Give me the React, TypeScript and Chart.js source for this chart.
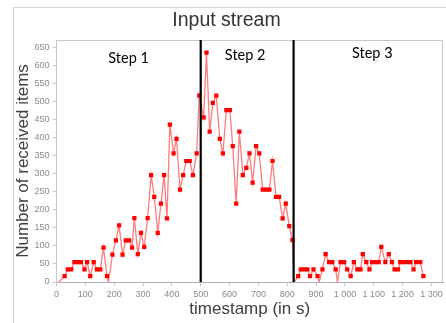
import React, { useEffect, useRef } from 'react';
import { Chart, registerables } from 'chart.js';

Chart.register(...registerables);

// ---- data ----
const timestamps = [
  8, 28, 39, 51, 62, 73, 85, 97, 106, 117, 129, 140, 152, 163, 175, 180,
  194, 206, 217, 229, 240, 252, 262, 270, 282, 293, 304, 316, 328, 339, 351, 362,
  373, 383, 393, 406, 416, 428, 439, 450, 462, 473, 486, 495,
  510, 520, 531, 542, 554, 566, 577, 589, 601, 611, 623, 634, 646, 658, 669, 680,
  692, 703, 715, 727, 738, 749, 761, 772, 784, 795, 807, 818, 824,
  838, 847, 859, 870, 879, 891, 905, 911, 922, 933, 945, 956, 968, 974, 985, 997,
  1008, 1020, 1031, 1043, 1054, 1062, 1074, 1085, 1094, 1106, 1117, 1126, 1140, 1152, 1163, 1172,
  1184, 1192, 1203, 1215, 1227, 1238, 1247, 1261, 1272,
];
const receivedItems = [
  0, 16, 35, 35, 55, 55, 55, 35, 55, 16, 55, 35, 35, 95, 16, 0,
  76, 115, 157, 76, 115, 115, 95, 177, 77, 136, 97, 177, 296, 236, 136, 217,
  296, 176, 436, 356, 396, 256, 296, 335, 335, 296, 356, 516,
  456, 635, 416, 496, 516, 396, 356, 476, 476, 376, 217, 416, 296, 316, 356, 275,
  376, 356, 256, 256, 256, 335, 236, 236, 176, 217, 155, 116, 0,
  16, 35, 35, 35, 16, 35, 16, 0, 35, 77, 55, 55, 35, 0, 55, 55,
  35, 16, 55, 35, 35, 77, 55, 35, 55, 55, 55, 97, 55, 77, 55, 35,
  35, 55, 55, 55, 55, 35, 55, 55, 16,
];
const stepBoundaries = [500, 822];
const stepNames = ['Step 1', 'Step 2', 'Step 3'];
const xTickValues = [0, 100, 200, 300, 400, 500, 600, 700, 800, 900, 1000, 1100, 1200, 1300];
const yTickValues = [0, 50, 100, 150, 200, 250, 300, 350, 400, 450, 500, 550, 600, 650];

const formatThousands = (v: number) => String(v).replace(/\B(?=(\d{3})+(?!\d))/g, ' ');

export default function App() {
  const canvasRef = useRef<HTMLCanvasElement>(null);

  useEffect(() => {
    document.body.style.margin = '0';
    const canvas = canvasRef.current;
    if (!canvas) return;

    const overlay = {
      id: 'overlay',
      beforeDatasetsDraw(chart: any) {
        const { ctx, chartArea } = chart;
        ctx.save();
        ctx.strokeStyle = '#c8c8c8';
        ctx.lineWidth = 1;
        ctx.beginPath();
        ctx.moveTo(chartArea.left, chartArea.top + 0.5);
        ctx.lineTo(chartArea.right - 0.5, chartArea.top + 0.5);
        ctx.lineTo(chartArea.right - 0.5, chartArea.bottom);
        ctx.stroke();
        ctx.restore();
      },
      afterDatasetsDraw(chart: any) {
        const { ctx, chartArea, scales } = chart;
        const xs = scales.x;
        ctx.save();
        ctx.strokeStyle = '#000';
        ctx.lineWidth = 2.2;
        stepBoundaries.forEach((b) => {
          const x = xs.getPixelForValue(b);
          ctx.beginPath();
          ctx.moveTo(x, chartArea.top);
          ctx.lineTo(x, chartArea.bottom);
          ctx.stroke();
        });
        const edges = [xs.min, ...stepBoundaries, xs.max];
        const baselineOffsets = [23, 20, 17.5];
        const dx = [0, -2, 4];
        ctx.font = '14.5px Lato, "Liberation Sans", sans-serif';
        ctx.fillStyle = '#000';
        ctx.textAlign = 'center';
        ctx.textBaseline = 'alphabetic';
        stepNames.forEach((name, i) => {
          const cx = (xs.getPixelForValue(edges[i]) + xs.getPixelForValue(edges[i + 1])) / 2 + dx[i];
          ctx.fillText(name, cx, chartArea.top + baselineOffsets[i]);
        });
        ctx.restore();
      },
    };

    Chart.defaults.font.family = "'Liberation Sans', Arial, sans-serif";

    const chart = new Chart(canvas, {
      type: 'line',
      data: {
        datasets: [
          {
            label: 'Input stream',
            data: timestamps.map((t, i) => ({ x: t, y: receivedItems[i] })),
            borderColor: 'rgba(255,80,80,0.75)',
            borderWidth: 1.3,
            pointBackgroundColor: '#ff0000',
            pointBorderWidth: 0,
            pointStyle: 'rect',
            pointRadius: (c: any) => (c.raw && c.raw.y === 0 ? 0 : 3),
            pointHoverRadius: 3,
            tension: 0,
          },
        ],
      },
      options: {
        responsive: false,
        animation: false,
        devicePixelRatio: 1,
        layout: { padding: { left: 8, right: 1, top: 0, bottom: 0 } },
        plugins: {
          legend: { display: false },
          tooltip: { enabled: false },
          title: {
            display: true,
            text: 'Input stream',
            color: '#333333',
            font: { size: 19.5, weight: 'normal' },
            padding: { top: 9, bottom: 7.6 },
          },
        },
        scales: {
          x: {
            type: 'linear',
            min: 0,
            max: 1340,
            afterBuildTicks: (s: any) => {
              s.ticks = xTickValues.map((v) => ({ value: v }));
            },
            afterFit: (s: any) => {
              s.height = 41;
              s.paddingLeft = 0;
              s.paddingRight = 0;
            },
            ticks: {
              font: { size: 9 },
              color: '#8a8a8a',
              padding: 3,
              maxRotation: 0,
              autoSkip: false,
              callback: (v: any) => formatThousands(Number(v)),
            },
            grid: { drawOnChartArea: false, tickLength: 4, color: '#c8c8c8' },
            border: { color: '#b0b0b0' },
            title: {
              display: true,
              text: 'timestamp (in s)',
              color: '#404040',
              font: { size: 17 },
              padding: { top: 0, bottom: 3.3 },
            },
          },
          y: {
            type: 'linear',
            min: 0,
            max: 670,
            afterBuildTicks: (s: any) => {
              s.ticks = yTickValues.map((v) => ({ value: v }));
            },
            afterFit: (s: any) => {
              s.width = 48.5;
              s.paddingTop = 0;
              s.paddingBottom = 0;
            },
            ticks: { font: { size: 9 }, color: '#8a8a8a', padding: 3 },
            grid: { drawOnChartArea: false, tickLength: 4, color: '#c8c8c8' },
            border: { color: '#c8c8c8' },
            title: {
              display: true,
              text: 'Number of received items',
              color: '#404040',
              font: { size: 17 },
              padding: { top: 4.8, bottom: 0 },
            },
          },
        },
      },
      plugins: [overlay],
    } as any);

    return () => chart.destroy();
  }, []);

  return (
    <div style={{ position: 'relative', width: 446, height: 323, overflow: 'hidden', background: '#fff' }}>
      <div
        style={{
          position: 'absolute',
          left: 13,
          top: 7,
          width: 460,
          height: 340,
          border: '1px solid #d6d6d6',
          boxSizing: 'border-box',
        }}
      />
      <canvas ref={canvasRef} width={446} height={323} style={{ position: 'absolute', left: 0, top: 0 }} />
    </div>
  );
}
